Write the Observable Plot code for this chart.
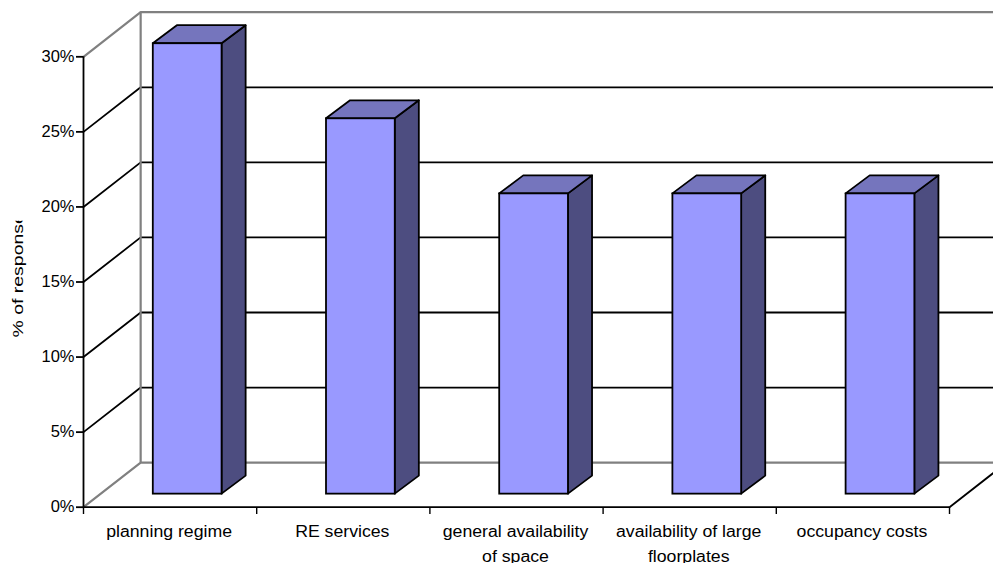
<!DOCTYPE html>
<html>
<head>
<meta charset="utf-8">
<script src="https://cdn.jsdelivr.net/npm/d3@7"></script>
<script src="https://cdn.jsdelivr.net/npm/@observablehq/plot@0.6"></script>
<style>html,body{margin:0;padding:0;background:#fff;overflow:hidden}svg{display:block}</style>
</head>
<body>
<div id="chart"></div>
<script>
const categories = ["planning regime", "RE services", "general availability\nof space", "availability of large\nfloorplates", "occupancy costs"];
const values = [30, 25, 20, 20, 20];
const yTicks = [0, 5, 10, 15, 20, 25, 30];
const xTicks = [0, 1, 2, 3, 4, 5];
const yLabel = "% of responses";

// Pseudo-3D projection, in data units
const wallDx = 0.33, wallDy = 2.97;   // depth of the whole floor
const barLeft = 0.403, barRight = 0.80;
const barLiftY = 0.87;
const sideDx = 0.139, sideDy = 1.2;
const xEnd = 5 + wallDx;
const black = "#000", gray = "#808080";
const sw = 1.8;

const bars = categories.map((c, i) => ({c, i, v: values[i]}));
const x1 = d => d.i + barLeft, x2 = d => d.i + barRight;
const yb = () => barLiftY, yt = d => d.v + barLiftY;

const sidePts = bars.flatMap(d => [
  {c: d.c, x: x2(d), y1: yb(d), y2: yt(d)},
  {c: d.c, x: x2(d) + sideDx, y1: yb(d) + sideDy, y2: yt(d) + sideDy}
]);
const topPts = bars.flatMap(d => [
  {c: d.c, x1: x1(d), x2: x2(d), y: yt(d)},
  {c: d.c, x1: x1(d) + sideDx, x2: x2(d) + sideDx, y: yt(d) + sideDy}
]);
const wallLines = yTicks.flatMap(t => [
  {t, x: 0, y: t}, {t, x: wallDx, y: t + wallDy}, {t, x: xEnd + 1, y: t + wallDy}
]);
const floorRight = [{x: 5, y: 0}, {x: xEnd, y: wallDy}];
const isEdge = t => t === 0 || t === 30;

const plot = Plot.plot({
  width: 993, height: 563,
  marginLeft: 83, marginRight: 44, marginTop: 56, marginBottom: 56,
  style: {fontFamily: "'Liberation Sans', Arial, sans-serif", fontSize: "16px", color: "#000", background: "#fff", overflow: "hidden"},
  x: {domain: [0, 5], range: [83, 949]},
  y: {domain: [0, 30], range: [506.7, 56.3]},
  marks: [
    Plot.line(wallLines.filter(d => !isEdge(d.t)), {x: "x", y: "y", z: "t", stroke: black, strokeWidth: sw}),
    Plot.line(wallLines.filter(d => isEdge(d.t)), {x: "x", y: "y", z: "t", stroke: gray, strokeWidth: 2.2}),
    Plot.ruleX([wallDx], {y1: wallDy, y2: 30 + wallDy, stroke: gray, strokeWidth: 2.2}),
    Plot.line(floorRight, {x: "x", y: "y", stroke: black, strokeWidth: sw}),
    Plot.ruleX([0], {y1: 0, y2: 30, stroke: black, strokeWidth: sw}),
    Plot.ruleY([0], {x1: 0, x2: 5, stroke: black, strokeWidth: sw}),
    Plot.area(sidePts, {x1: "x", x2: "x", y1: "y1", y2: "y2", z: "c", fill: "#4D4D80", stroke: black, strokeWidth: sw}),
    Plot.area(topPts, {x1: "x1", x2: "x2", y1: "y", y2: "y", z: "c", fill: "#7575BD", stroke: black, strokeWidth: sw}),
    Plot.rect(bars, {x1, x2, y1: yb, y2: yt, fill: "#9999FF", stroke: black, strokeWidth: sw}),
    Plot.axisY({ticks: yTicks, tickFormat: d => d + "%", tickSize: 7, tickPadding: 2, label: null, fontSize: 16.5, strokeWidth: sw}),
    Plot.axisX({ticks: xTicks, tickFormat: () => "", tickSize: 7, label: null, strokeWidth: 1.4}),
    Plot.text(bars, {className: "xlabels", x: d => d.i + 0.5, y: 0, text: "c", dy: 12, lineAnchor: "top", fontSize: 16, lineHeight: 1.56, dx: -1}),
    Plot.text([yLabel], {className: "ylabel", x: -0.375, y: 11.3, text: d => d, rotate: -90, textAnchor: "start", fontSize: 14}),
    Plot.rect([yLabel], {x1: -0.48, x2: -0.3, y1: 19.05, y2: 22, fill: "#fff"})
  ]
});
document.getElementById("chart").append(plot);

// The reference's text is stretched along its run: reproduce that with textLength
function stretch(el, factor) {
  el.setAttribute("textLength", el.getComputedTextLength() * factor);
  el.setAttribute("lengthAdjust", "spacingAndGlyphs");
}
plot.querySelectorAll(".xlabels text").forEach(t => {
  const spans = t.querySelectorAll("tspan");
  if (spans.length) spans.forEach(s => stretch(s, 1.105));
  else stretch(t, 1.105);
});
plot.querySelectorAll(".ylabel text").forEach(t => stretch(t, 1.39));
</script>
</body>
</html>
